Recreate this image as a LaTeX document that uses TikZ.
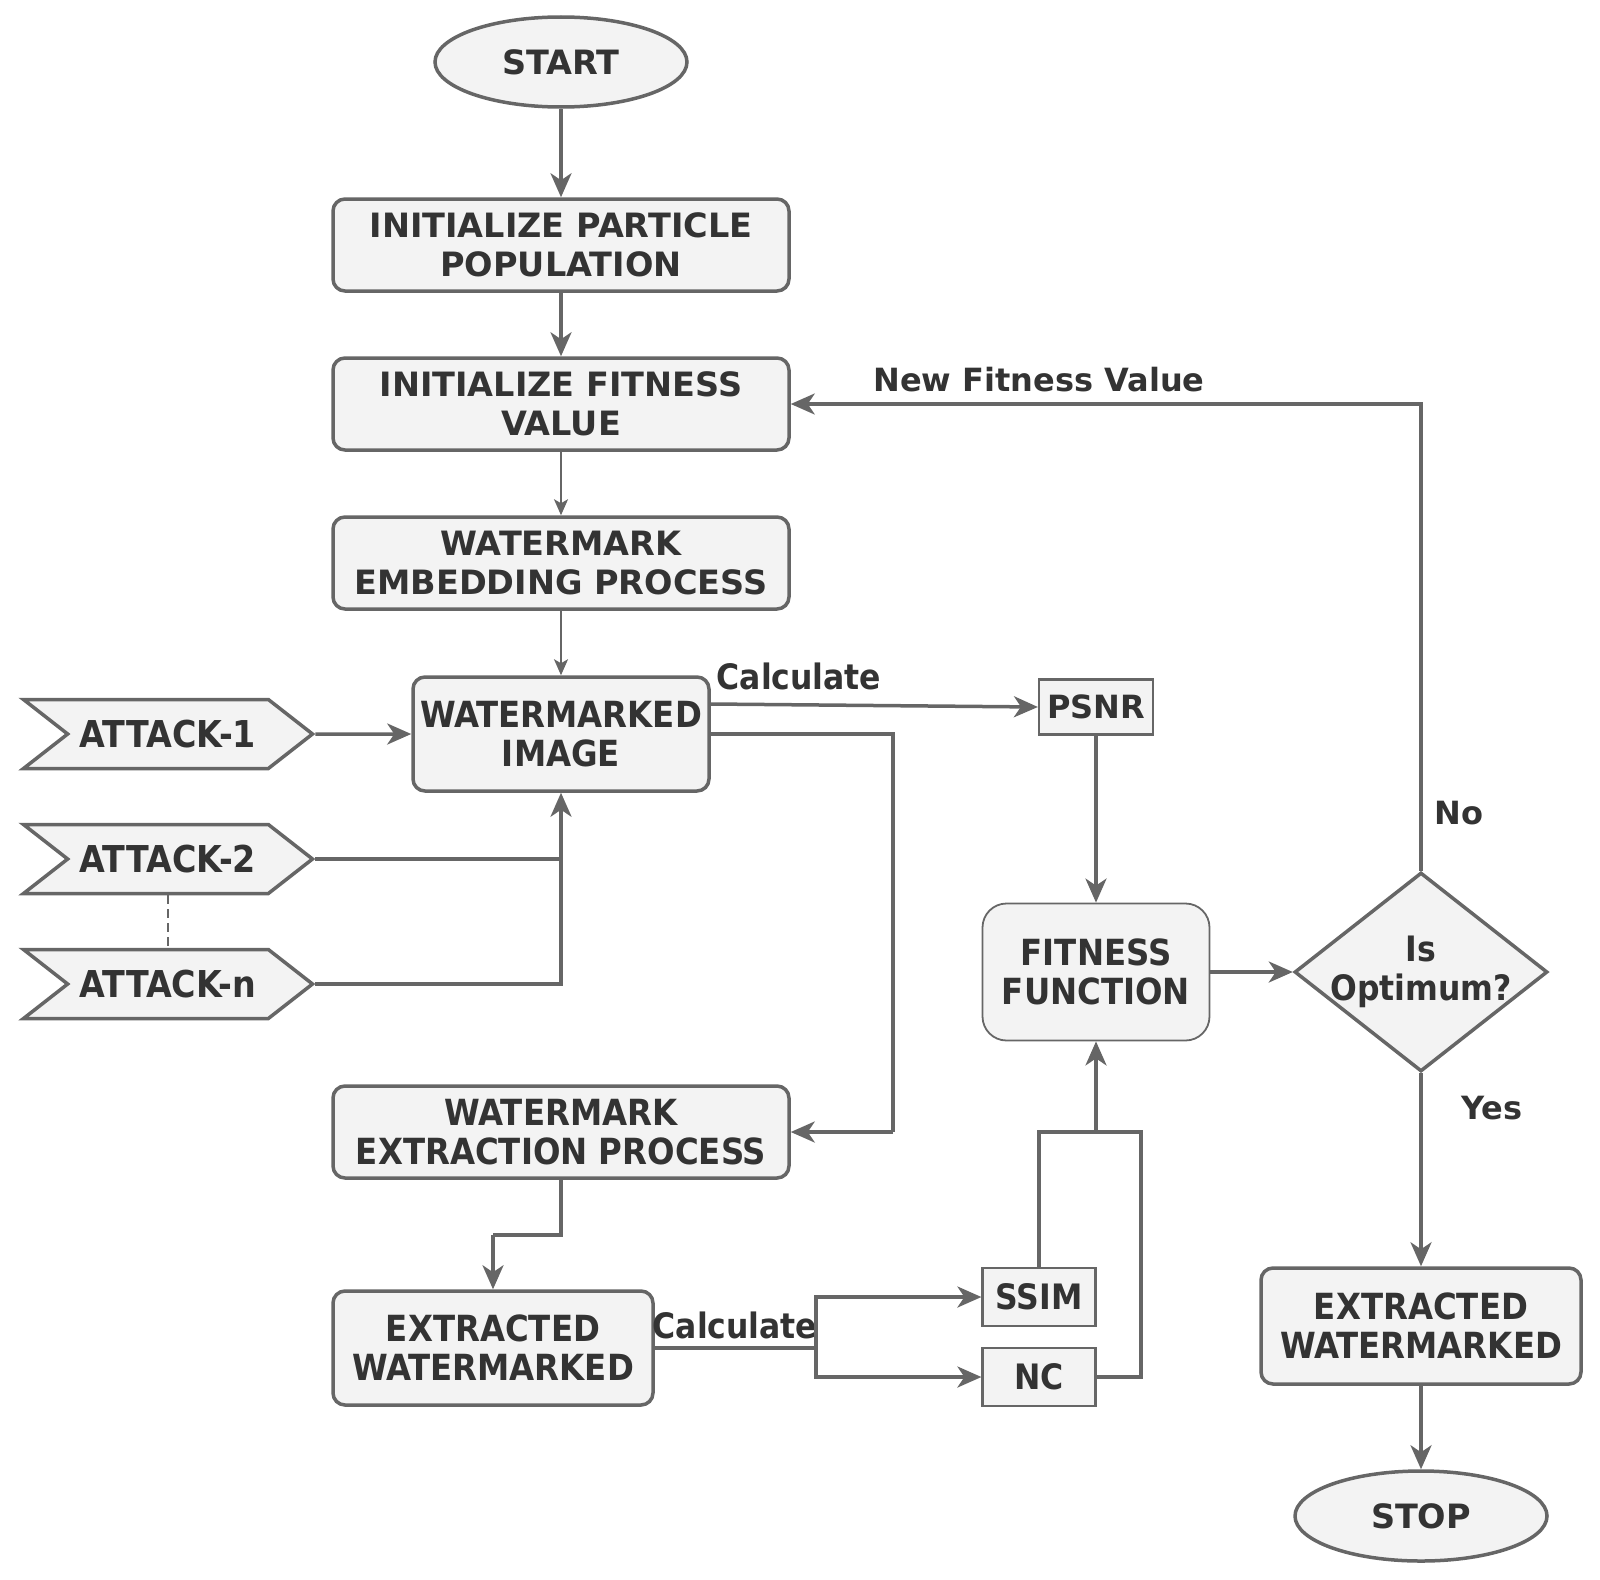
\documentclass[tikz,border=0pt]{standalone}
\usepackage{fontspec}
\setmainfont{DejaVu Sans}
\newfontfamily\condfont{DejaVu Sans Condensed}
\usetikzlibrary{arrows.meta,shapes.geometric,shapes.symbols}
\definecolor{ln}{HTML}{666666}
\definecolor{fl}{HTML}{F3F3F3}
\definecolor{tx}{HTML}{333333}
\tikzset{
  base/.style={draw=ln, fill=fl, text=tx, font=\bfseries\fontsize{33.5}{39}\selectfont, align=center, inner sep=0pt},
  rbox/.style={base, line width=3.5pt, rounded corners=12pt},
  cbox/.style={rbox, font=\condfont\bfseries\fontsize{36}{39}\selectfont},
  sbox/.style={base, line width=2.2pt, font=\bfseries\fontsize{32}{39}\selectfont},
  term/.style={base, ellipse, line width=3.5pt},
  arr/.style={draw=ln, line width=3.5pt, -{Stealth[length=24pt,width=21pt,inset=7pt]}},
  tarr/.style={draw=ln, line width=2pt, -{Stealth[length=16pt,width=14pt,inset=4pt]}},
  ln3/.style={draw=ln, line width=3.5pt},
  lbl/.style={text=tx, font=\bfseries\fontsize{32}{39}\selectfont, inner sep=0pt},
  clbl/.style={text=tx, font=\condfont\bfseries\fontsize{35}{39}\selectfont, inner sep=0pt},
  attack/.style={signal, signal to=east, signal from=west, signal pointer angle=76, draw=ln, fill=fl, line width=3.5pt, text=tx, font=\condfont\bfseries\fontsize{37}{39}\selectfont, minimum width=289pt, minimum height=69pt, inner sep=0pt}
}
\begin{document}
\begin{tikzpicture}[x=1pt,y=-1pt]
\useasboundingbox (0,0) rectangle (1600,1579);
% nodes
\node[term, minimum width=252pt, minimum height=90pt] (start) at (561,62) {START};
\node[rbox, minimum width=456pt, minimum height=92pt] (pop) at (561,245) {INITIALIZE PARTICLE\\POPULATION};
\node[rbox, minimum width=456pt, minimum height=92pt] (fit) at (561,404) {INITIALIZE FITNESS\\VALUE};
\node[rbox, minimum width=456pt, minimum height=92pt] (emb) at (561,563) {WATERMARK\\EMBEDDING PROCESS};
\node[cbox, minimum width=296pt, minimum height=114pt] (img) at (561,734) {WATERMARKED\\IMAGE};
\node[attack] (a1) at (168,734) {ATTACK-1};
\node[attack] (a2) at (168,859) {ATTACK-2};
\node[attack] (an) at (168,984) {ATTACK-n};
\node[sbox, minimum width=114pt, minimum height=55pt] (psnr) at (1096,707) {PSNR};
\node[base, line width=1.8pt, rounded corners=24pt, minimum width=227pt, minimum height=137pt, font=\condfont\bfseries\fontsize{36}{39}\selectfont] (ff) at (1096,972) {FITNESS\\FUNCTION};
\node[diamond, draw=ln, fill=fl, line width=3.5pt, minimum width=253pt, minimum height=199pt, inner sep=0pt,
  label={[text=tx, font=\condfont\bfseries\fontsize{35}{39}\selectfont, align=center]center:Is\\Optimum?}] (dia) at (1421,972) {};
\node[cbox, minimum width=456pt, minimum height=92pt] (extr) at (561,1132) {WATERMARK\\EXTRACTION PROCESS};
\node[cbox, minimum width=320pt, minimum height=114pt] (exl) at (493,1348) {EXTRACTED\\WATERMARKED};
\node[sbox, minimum width=113pt, minimum height=58pt, font=\condfont\bfseries\fontsize{35}{39}\selectfont] (ssim) at (1039,1297) {SSIM};
\node[sbox, minimum width=113pt, minimum height=58pt, font=\condfont\bfseries\fontsize{35}{39}\selectfont] (nc) at (1039,1377) {NC};
\node[cbox, minimum width=320pt, minimum height=116pt] (exr) at (1421,1326) {EXTRACTED\\WATERMARKED};
\node[term, minimum width=252pt, minimum height=90pt] (stop) at (1421,1516) {STOP};
% labels
\node[clbl] (lcalc1) at (799,676) {Calculate};
\node[clbl] (lcalc2) at (735,1325) {Calculate};
\node[lbl] (lnew) at (1039,380) {New Fitness Value};
\node[lbl] (lno) at (1459,813) {No};
\node[lbl] (lyes) at (1492,1108) {Yes};
% coordinates
\coordinate (c1) at (893,1132);
\coordinate (c2) at (493,1235);
\coordinate (c3) at (816,1348);
\coordinate (c4) at (1096,1132);
\coordinate (c5) at (1141,1132);
% connectors
\draw[arr] (start) -- (pop);
\draw[arr] (pop) -- (fit);
\draw[tarr] (fit) -- (emb);
\draw[tarr] (emb) -- (img);
\draw[arr] (a1) -- (img);
\draw[ln3] (a2.east) -- (a2.east -| img.south);
\draw[arr] (an.east) -| (img.south);
\draw[draw=ln, line width=2pt, dash pattern=on 9pt off 5pt] (a2.south) -- (an.north);
\draw[arr] ([yshift=30pt]img.east) -- (psnr.west);
\draw[ln3] (img.east) -| (c1);
\draw[arr] (c1) -- (extr.east);
\draw[ln3] (extr.south) |- (c2);
\draw[arr] (c2) -- (exl.north);
\draw[draw=ln, line width=4.5pt] (exl.east) -- (c3);
\draw[arr] (c3) |- (ssim.west);
\draw[arr] (c3) |- (nc.west);
\draw[ln3] (ssim.north) |- (c4);
\draw[ln3] (nc.east) -| (c5) -- (c4);
\draw[arr] (c4) -- (ff.south);
\draw[arr] (psnr.south) -- (ff.north);
\draw[arr] (ff.east) -- (dia.west);
\draw[arr] (dia.north) |- (fit.east);
\draw[arr] (dia.south) -- (exr.north);
\draw[arr] (exr) -- (stop);
\end{tikzpicture}
\end{document}
